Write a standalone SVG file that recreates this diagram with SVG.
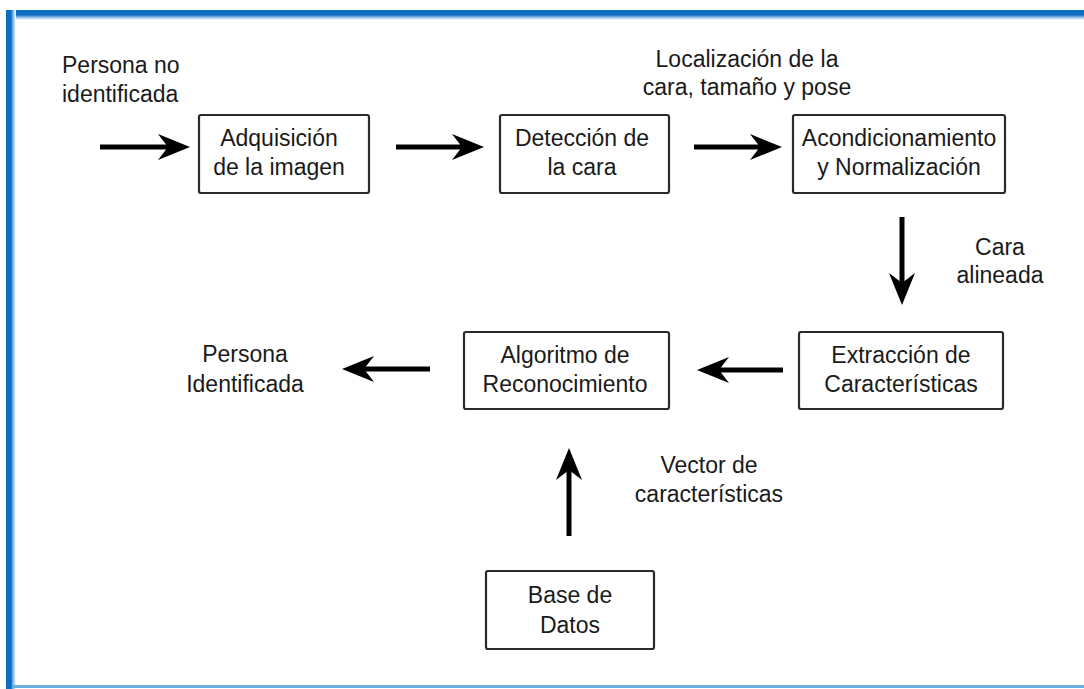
<svg xmlns="http://www.w3.org/2000/svg" width="1084" height="689" viewBox="0 0 1084 689">
<defs>
<style>
text{font-family:"Liberation Sans",Arial,sans-serif;font-size:23px;fill:#1a1a1a;text-anchor:middle}
.l{text-anchor:start}
.box{fill:#fff;stroke:#2a2a2a;stroke-width:2.2}
.shaft{stroke:#000;stroke-width:5;fill:none}
.head{fill:#000}
</style>
<linearGradient id="gt" x1="0" y1="0" x2="0" y2="1">
<stop offset="0" stop-color="#0b6cc0"/><stop offset="0.5" stop-color="#0b6cc0"/><stop offset="0.7" stop-color="#7fb6e4"/><stop offset="1" stop-color="#ffffff"/>
</linearGradient>
<linearGradient id="gl" x1="0" y1="0" x2="1" y2="0">
<stop offset="0" stop-color="#0b6cc0"/><stop offset="0.5" stop-color="#0b6cc0"/><stop offset="0.7" stop-color="#7fb6e4"/><stop offset="1" stop-color="#ffffff"/>
</linearGradient>
<g id="ah"><path class="head" d="M0,0 L-32,-13 L-22,0 L-32,13 Z"/></g>
</defs>
<rect width="1084" height="689" fill="#fff"/>
<g id="frame">
<rect x="6" y="10" width="1078" height="10" fill="url(#gt)"/>
<rect x="6" y="10" width="10" height="679" fill="url(#gl)"/>
<rect x="12" y="685" width="1072" height="3" fill="#6aaee0"/>
</g>

<g id="connectors">
<line class="shaft" x1="100" y1="147" x2="170" y2="147"/><use href="#ah" transform="translate(190,147)"/>
<line class="shaft" x1="396" y1="147" x2="464" y2="147"/><use href="#ah" transform="translate(484,147)"/>
<line class="shaft" x1="694" y1="147" x2="762" y2="147"/><use href="#ah" transform="translate(782,147)"/>
<line class="shaft" x1="902" y1="217" x2="902" y2="285"/><use href="#ah" transform="translate(902,305) rotate(90)"/>
<line class="shaft" x1="783" y1="370" x2="717" y2="370"/><use href="#ah" transform="translate(697,370) rotate(180)"/>
<line class="shaft" x1="430" y1="369" x2="362" y2="369"/><use href="#ah" transform="translate(342,369) rotate(180)"/>
<line class="shaft" x1="569" y1="536" x2="569" y2="468"/><use href="#ah" transform="translate(569,448) rotate(-90)"/>
</g>

<g id="labels">
<text class="l" x="62" y="73">Persona no</text>
<text class="l" x="62" y="102">identificada</text>
<text x="747" y="67">Localización de la</text>
<text x="747" y="95">cara, tamaño y pose</text>
<text x="1000" y="255">Cara</text>
<text x="1000" y="283">alineada</text>
<text x="245" y="362">Persona</text>
<text x="245" y="392">Identificada</text>
<text x="709" y="473">Vector de</text>
<text x="709" y="502">características</text>
</g>

<g id="n-adquisicion">
<rect class="box" x="199" y="115" width="170" height="78" rx="2"/>
<text x="279" y="146">Adquisición</text>
<text x="279" y="175">de la imagen</text>
</g>
<g id="n-deteccion">
<rect class="box" x="500" y="115" width="169" height="78" rx="2"/>
<text x="582" y="146">Detección de</text>
<text x="582" y="175">la cara</text>
</g>
<g id="n-acondicionamiento">
<rect class="box" x="793" y="115" width="212" height="78" rx="2"/>
<text x="899" y="146">Acondicionamiento</text>
<text x="899" y="175">y Normalización</text>
</g>
<g id="n-extraccion">
<rect class="box" x="799" y="332" width="204" height="77" rx="2"/>
<text x="901" y="363">Extracción de</text>
<text x="901" y="392">Características</text>
</g>
<g id="n-algoritmo">
<rect class="box" x="464" y="332" width="205" height="77" rx="2"/>
<text x="565" y="363">Algoritmo de</text>
<text x="565" y="392">Reconocimiento</text>
</g>
<g id="n-base">
<rect class="box" x="486" y="571" width="168" height="78" rx="2"/>
<text x="570" y="603">Base de</text>
<text x="570" y="633">Datos</text>
</g>
</svg>
